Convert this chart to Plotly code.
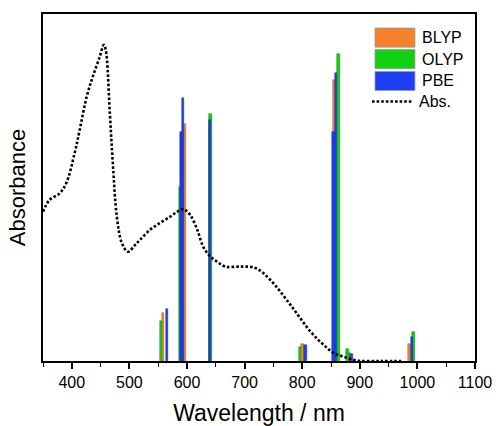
import plotly.graph_objects as go

# ---- data ----
blyp_wl = [558.5, 596.0, 640.0, 800.3, 856.1, 882.0, 986.6]
blyp_int = [0.138, 0.684, 0.690, 0.048, 0.810, 0.022, 0.049]

olyp_wl = [554.5, 588.7, 640.5, 796.0, 863.1, 879.0, 993.6]
olyp_int = [0.115, 0.501, 0.712, 0.041, 0.885, 0.034, 0.084]

pbe_wl = [565.5, 590.5, 593.0, 640.0, 805.9, 854.4, 858.7, 886.0, 990.8]
pbe_int = [0.150, 0.660, 0.758, 0.695, 0.046, 0.660, 0.830, 0.020, 0.070]

abs_wl = [350, 361.3, 378.8, 390.5, 404.9, 413.7, 425.9, 436.3, 448.6, 455.5, 459.0,
          466.0, 471.2, 478.2, 486.9, 497.4, 509.6, 518.3, 535.8, 553.2, 570.8,
          583.0, 593.5, 605.5, 617.8, 628.2, 640.4, 652.6, 666.6, 692.7, 718.9,
          745.0, 779.9, 814.8, 837.5, 854.9, 872.4, 896.3, 937.0, 972.0]
abs_val = [0.430, 0.464, 0.483, 0.513, 0.599, 0.666, 0.762, 0.819, 0.877, 0.911, 0.896,
           0.715, 0.571, 0.416, 0.340, 0.315, 0.334, 0.349, 0.378, 0.398, 0.416,
           0.430, 0.438, 0.421, 0.378, 0.329, 0.301, 0.286, 0.272, 0.272, 0.268,
           0.233, 0.161, 0.084, 0.046, 0.023, 0.012, 0.001, 0.0, 0.0]

series_names = ["BLYP", "OLYP", "PBE"]
colors = ["#F5822A", "#12D112", "#1F3FF5"]
edge_colors = ["#A85A1C", "#0A8A0A", "#14289F"]
bar_width = 4.5

FONT = "Arial, 'Liberation Sans', sans-serif"

fig = go.Figure()
for name, wl, inten, c, ec in zip(series_names, [blyp_wl, olyp_wl, pbe_wl],
                                  [blyp_int, olyp_int, pbe_int], colors, edge_colors):
    fig.add_trace(go.Bar(x=wl, y=inten, width=bar_width, name=name,
                         marker=dict(color=c, line=dict(color=ec, width=0.5)),
                         showlegend=False))

fig.add_trace(go.Scatter(x=abs_wl, y=abs_val, mode="lines", name="Abs.",
                         line=dict(color="black", width=2.6, dash="2.6px,2px", shape="spline"),
                         showlegend=False))

# ---- custom legend (paper coordinates) ----
legend_rows_y = [0.932, 0.870, 0.807]
box_x0, box_x1 = 0.7685, 0.861
box_half_h = 0.0275
for name, c, yc in zip(series_names, colors, legend_rows_y):
    fig.add_shape(type="rect", xref="paper", yref="paper",
                  x0=box_x0, x1=box_x1, y0=yc - box_half_h, y1=yc + box_half_h,
                  fillcolor=c, line=dict(color="#9a9a9a", width=0.8))
    fig.add_annotation(xref="paper", yref="paper", x=0.873, y=yc, text=name,
                       showarrow=False, xanchor="left", yanchor="middle",
                       font=dict(family=FONT, size=16, color="black"))
abs_y = 0.748
fig.add_shape(type="line", xref="paper", yref="paper", x0=0.7616, x1=0.8565,
              y0=abs_y, y1=abs_y, line=dict(color="black", width=2.6, dash="2.6px,2px"))
fig.add_annotation(xref="paper", yref="paper", x=0.866, y=abs_y, text="Abs.",
                   showarrow=False, xanchor="left", yanchor="middle",
                   font=dict(family=FONT, size=16, color="black"))

fig.update_layout(
    width=496, height=426,
    margin=dict(l=43, r=21, t=14, b=65),
    paper_bgcolor="white", plot_bgcolor="white",
    barmode="overlay", bargap=0,
    font=dict(family=FONT, color="black"),
)
fig.update_xaxes(range=[350, 1100], tick0=400, dtick=100, ticks="outside",
                 ticklen=6, tickwidth=1.5, tickcolor="black",
                 minor=dict(ticks="outside", ticklen=4, tickwidth=1.2, tickcolor="black",
                            tick0=350, dtick=50),
                 showline=True, mirror=True, linecolor="black", linewidth=1.5,
                 showgrid=False, zeroline=False, automargin=False,
                 tickfont=dict(family=FONT, size=16, color="black"),
                 title=dict(text="Wavelength / nm", standoff=16,
                            font=dict(family=FONT, size=23, color="black")))
fig.update_yaxes(range=[0, 1], showticklabels=False, ticks="",
                 showline=True, mirror=True, linecolor="black", linewidth=1.5,
                 showgrid=False, zeroline=False, automargin=False,
                 title=dict(text="Absorbance", standoff=10,
                            font=dict(family=FONT, size=22, color="black")))

fig.write_html("out.html")
